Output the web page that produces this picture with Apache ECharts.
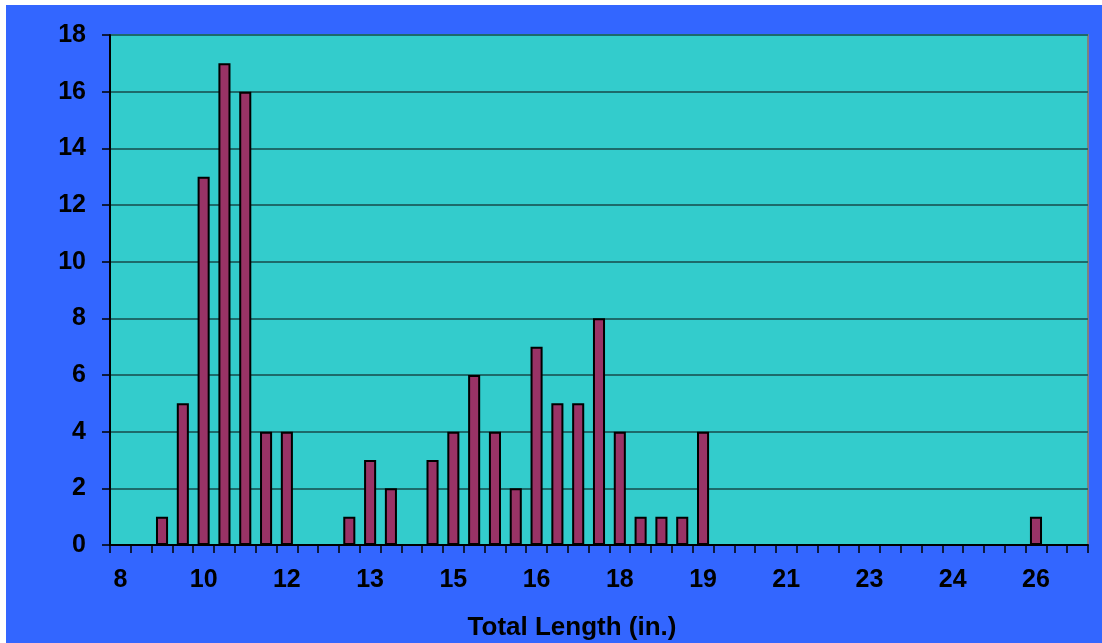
<!DOCTYPE html>
<html>
<head>
<meta charset="utf-8">
<script src="https://cdn.jsdelivr.net/npm/echarts@6/dist/echarts.min.js"></script>
<style>
html,body{margin:0;padding:0;background:#fff;width:1102px;height:643px;overflow:hidden;}
#chart{position:absolute;left:6px;top:5px;width:1096px;height:638px;}
</style>
</head>
<body>
<div id="chart"></div>
<script>
// Category labels (total length, inches, rounded) — one per 10 mm bin
const categories = ['8','9','9','10','10','10','11','11','12','12','12','13','13','14','14','14',
  '15','15','16','16','16','17','17','18','18','18','19','19','19','20','20','21','21','21',
  '22','22','23','23','23','24','24','25','25','25','26','26','27'];
// Counts per bin
const counts = [0,0,1,5,13,17,16,4,4,0,0,1,3,2,0,3,
  4,6,4,2,7,5,5,8,4,1,1,1,4,0,0,0,0,0,
  0,0,0,0,0,0,0,0,0,0,1,0,0];
const yTicks = {min:0, max:18, interval:2};
const xTitle = 'Total Length (in.)';

const chart = echarts.init(document.getElementById('chart'));
const font = 'Liberation Sans, Arial, sans-serif';
chart.setOption({
  backgroundColor: '#3366FF',
  animation: false,
  grid: {
    left: 104, right: 14, top: 30, bottom: 98,
    outerBoundsMode: 'none', containLabel: false,
    show: true, backgroundColor: '#33CCCC', borderColor: '#808080', borderWidth: 2
  },
  xAxis: {
    type: 'category',
    data: categories,
    boundaryGap: true,
    axisLine: {lineStyle: {color: '#000', width: 2}},
    axisTick: {show: true, interval: 0, length: 8, inside: false, lineStyle: {color: '#000', width: 1.5}},
    axisLabel: {interval: 3, color: '#000', fontFamily: font, fontWeight: 'bold', fontSize: 25, margin: 23},
    splitLine: {show: false},
    name: xTitle,
    nameLocation: 'middle',
    nameGap: 70,
    nameTextStyle: {color: '#000', fontFamily: font, fontWeight: 'bold', fontSize: 26, padding: [0, 54, 0, 0]}
  },
  yAxis: {
    type: 'value',
    min: yTicks.min, max: yTicks.max, interval: yTicks.interval,
    axisLine: {show: true, lineStyle: {color: '#000', width: 2}},
    axisTick: {show: true, length: 8, lineStyle: {color: '#000', width: 1.5}},
    axisLabel: {color: '#000', fontFamily: font, fontWeight: 'bold', fontSize: 25, margin: 24},
    splitLine: {show: true, lineStyle: {color: '#1d6a6a', width: 2}}
  },
  series: [{
    type: 'bar',
    data: counts,
    barWidth: '58%',
    itemStyle: {color: '#993366', borderColor: '#000', borderWidth: 2}
  }]
});
</script>
</body>
</html>
